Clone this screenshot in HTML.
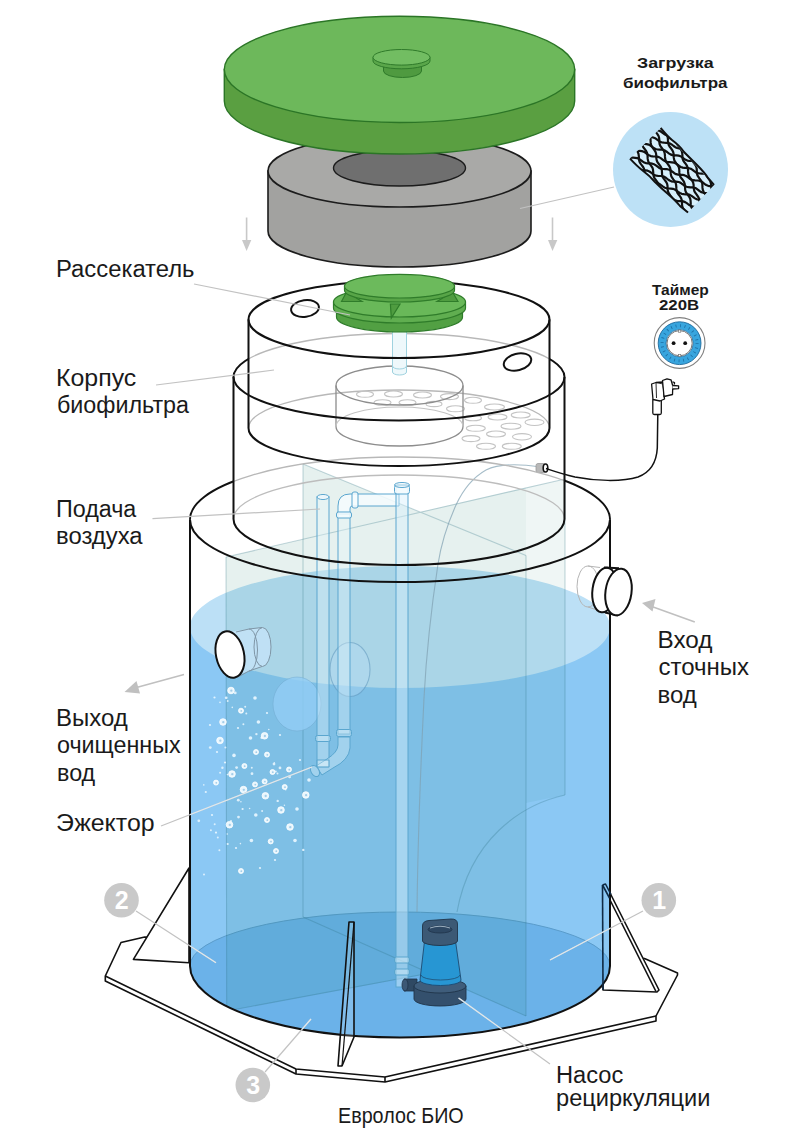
<!DOCTYPE html>
<html><head><meta charset="utf-8">
<style>
html,body{margin:0;padding:0;background:#fff;}
body{width:800px;height:1140px;overflow:hidden;}
svg{display:block;}
text{font-family:"Liberation Sans",sans-serif;}
</style></head>
<body>
<svg width="800" height="1140" viewBox="0 0 800 1140">
<rect width="800" height="1140" fill="#fff"/>

<!-- ===== BASE PLATE ===== -->
<g id="base" stroke="#111" stroke-width="1.6" stroke-linejoin="round" fill="#fff">
  <path d="M144.7,937 L121,942.5 L105.3,976 L105.3,981 L296,1074 L385,1082 L656,1021 L656,1016 L677.5,975 L677.5,973 L644.5,958.5 Z"/>
  <path d="M105.3,976 L296,1069 L385,1077 L656,1016" fill="none"/>
  <path d="M296,1069 L296,1074 M385,1077 L385,1082" fill="none"/>
  <!-- left fin -->
  <path d="M189,868 L133.4,959.4 L189,962.7 Z"/>
  <!-- right fin -->
  <path d="M602.5,885 L605.5,884 L659,990 L657,992 L603,990 Z"/>
  <path d="M602.5,885 L656,991.5" fill="none"/>
</g>

<!-- ===== TANK (C) water & body ===== -->
<defs><clipPath id="clipTank"><path d="M190,400 L190,966 A210,71.5 0 0 0 610,966 L610,400 Z"/></clipPath></defs>
<g id="tank">
  <!-- water body -->
  <path d="M190,627 L190,966 A210,71.5 0 0 0 610,966 L610,627 Z" fill="#8bc8f4"/>
  <!-- floor -->
  <path d="M190,966 A210,54 0 0 1 610,966 A210,71.5 0 0 1 190,966 Z" fill="#6bb2e9"/>
  <path d="M190,966 A210,54 0 0 1 610,966" fill="none" stroke="#5a9ccb" stroke-width="1"/>
  <!-- water surface -->
  <ellipse cx="400" cy="627" rx="210" ry="61" fill="#bce0f6"/>
  <!-- partition walls -->
  <g fill="#137868" stroke="none" clip-path="url(#clipTank)">
    <path d="M226,557 L303,539.2 L303,464 L420,512 L526,487.5 L526,1016 L430,973.4 L226.7,1011 Z" fill-opacity="0.105"/>
    <path d="M526,487.5 L565,479 L565,795 C545,799 535,801 526,803 Z" fill-opacity="0.065"/>
  </g>
  <g fill="none" stroke="#2a6f80" stroke-opacity="0.28" stroke-width="1.1" clip-path="url(#clipTank)">
    <path d="M226,557 L565,479 M303,464 L526,555.5"/>
    <path d="M226,557 L226.7,1011 M303,464 L303,917 M526,555.5 L526,1016 M565,479 L565,795"/>
    <path d="M565,795 C520,805 470,840 457,912"/>
    <path d="M226.7,1011 L457,968 M303,917 L526,1016"/>
  </g>
  <!-- air hose -->
  <path d="M540,467 C520,464 500,463 486,470 C472,478 462,492 456,505 C447,525 441,545 438,564 C431,610 426,660 424,698 C421,760 418,820 417,912" fill="none" stroke="#7f9fb0" stroke-opacity="0.7" stroke-width="1.1"/>
  <!-- disks -->
  <ellipse cx="297" cy="704" rx="24" ry="27" fill="#92cdf5" fill-opacity="0.8" stroke="#6fa6cc" stroke-opacity="0.45" stroke-width="1"/>
  <ellipse cx="350" cy="669.5" rx="20" ry="27" fill="#b8def5" fill-opacity="0.35" stroke="#5f96bc" stroke-opacity="0.55" stroke-width="1.1"/>
  <!-- pipes -->
  <g stroke="#5aa6cf" stroke-width="1" fill="#e6f5fb" fill-opacity="0.35">
    <rect x="317" y="497" width="12" height="270"/>
    <ellipse cx="323" cy="497" rx="6" ry="2.5" fill="#f4fbfe" fill-opacity="0.9"/>
    <rect x="338" y="512" width="12" height="222"/>
    <path d="M338,514 L338,506 Q338,494 350,494 L399,494 L399,506 L352,506 Q350,506 350,509 L350,514 Z" fill="#f4fbfe" fill-opacity="0.85"/>
    <rect x="336.5" y="512" width="15" height="6" rx="2" fill="#f4fbfe" fill-opacity="0.85"/>
    <rect x="352" y="492" width="6" height="16" rx="2" fill="#f4fbfe" fill-opacity="0.85"/>
    <rect x="315.5" y="735.5" width="15" height="6" rx="2"/>
    <rect x="336.5" y="729.5" width="15" height="7" rx="2"/>
    <path d="M338,737 L350,737 L350,748 Q349,760 333,768 L322,775 L316,766 L327,759 Q338,752 338,745 Z"/>
    <path d="M317,767 L329,767 L329,760 L317,760 Z"/>
    <ellipse cx="315" cy="771" rx="4" ry="6" transform="rotate(-30 315 771)"/>
    <rect x="396" y="487" width="12" height="500" fill="#d8f0fc" fill-opacity="0.45"/>
    <rect x="394.5" y="485" width="15" height="9" rx="2.5" fill="#f4fbfe" fill-opacity="0.9"/>
    <ellipse cx="402" cy="485" rx="7.5" ry="2.5" fill="#f4fbfe"/>
    <rect x="394.5" y="957" width="15" height="6" rx="2"/>
    <rect x="394.5" y="969" width="15" height="6" rx="2"/>
  </g>
  <!-- bubbles -->
  <g fill-opacity="0.92">
    <circle cx="252.0" cy="773.7" r="1.4" fill="#e3f3fd"/>
    <circle cx="277.5" cy="773.6" r="1.0" fill="#e3f3fd"/>
    <circle cx="243.4" cy="724.2" r="1.0" fill="#e3f3fd"/>
    <circle cx="232.3" cy="707.4" r="0.8" fill="#e3f3fd"/>
    <circle cx="285.7" cy="789.7" r="0.8" fill="#e3f3fd"/>
    <circle cx="238.3" cy="800.2" r="1.4" fill="#e3f3fd"/>
    <circle cx="262.1" cy="811.0" r="1.0" fill="#e3f3fd"/>
    <circle cx="284.4" cy="805.3" r="0.8" fill="#e3f3fd"/>
    <circle cx="227.7" cy="701.0" r="1.0" fill="#e3f3fd"/>
    <circle cx="277.7" cy="800.9" r="1.2" fill="#e3f3fd"/>
    <circle cx="275.8" cy="771.5" r="1.0" fill="#e3f3fd"/>
    <circle cx="249.6" cy="808.5" r="0.8" fill="#e3f3fd"/>
    <circle cx="227.5" cy="774.6" r="0.8" fill="#e3f3fd"/>
    <circle cx="231.0" cy="820.9" r="1.0" fill="#e3f3fd"/>
    <circle cx="203.8" cy="784.9" r="0.8" fill="#e3f3fd"/>
    <circle cx="274.0" cy="764.1" r="1.4" fill="#e3f3fd"/>
    <circle cx="220.0" cy="702.4" r="0.8" fill="#e3f3fd"/>
    <circle cx="268.8" cy="729.5" r="0.8" fill="#e3f3fd"/>
    <circle cx="289.6" cy="776.9" r="1.4" fill="#e3f3fd"/>
    <circle cx="251.8" cy="767.7" r="1.0" fill="#e3f3fd"/>
    <circle cx="227.3" cy="834.0" r="0.8" fill="#e3f3fd"/>
    <circle cx="210.3" cy="747.6" r="1.4" fill="#e3f3fd"/>
    <circle cx="210.9" cy="830.2" r="1.0" fill="#e3f3fd"/>
    <circle cx="198.8" cy="820.8" r="1.4" fill="#e3f3fd"/>
    <circle cx="217.8" cy="837.4" r="1.0" fill="#e3f3fd"/>
    <circle cx="220.1" cy="772.8" r="1.0" fill="#e3f3fd"/>
    <circle cx="236.6" cy="767.6" r="1.4" fill="#e3f3fd"/>
    <circle cx="222.4" cy="767.8" r="1.2" fill="#e3f3fd"/>
    <circle cx="303.3" cy="849.9" r="1.2" fill="#e3f3fd"/>
    <circle cx="204.0" cy="874.6" r="1.0" fill="#e3f3fd"/>
    <circle cx="274.3" cy="762.9" r="0.8" fill="#e3f3fd"/>
    <circle cx="226.2" cy="697.8" r="1.4" fill="#e3f3fd"/>
    <circle cx="261.6" cy="737.8" r="1.2" fill="#e3f3fd"/>
    <circle cx="240.4" cy="843.6" r="0.8" fill="#e3f3fd"/>
    <circle cx="245.2" cy="706.7" r="1.0" fill="#e3f3fd"/>
    <circle cx="235.3" cy="692.9" r="1.4" fill="#e3f3fd"/>
    <circle cx="246.3" cy="713.5" r="1.0" fill="#e3f3fd"/>
    <circle cx="219.4" cy="850.3" r="1.0" fill="#e3f3fd"/>
    <circle cx="225.4" cy="747.5" r="1.0" fill="#e3f3fd"/>
    <circle cx="214.7" cy="824.2" r="1.0" fill="#e3f3fd"/>
    <circle cx="238.5" cy="817.1" r="1.4" fill="#e3f3fd"/>
    <circle cx="240.9" cy="801.7" r="0.8" fill="#e3f3fd"/>
    <circle cx="242.2" cy="710.2" r="1.2" fill="#e3f3fd"/>
    <circle cx="256.4" cy="734.1" r="1.2" fill="#e3f3fd"/>
    <circle cx="280.0" cy="767.9" r="1.4" fill="#e3f3fd"/>
    <circle cx="231" cy="690.5" r="3.3" fill="#f2fbff" stroke="#ffffff" stroke-width="0.8"/><circle cx="231.3" cy="690.7" r="1.15" fill="#9cc9e6"/>
    <circle cx="255" cy="698" r="1.8" fill="#e8f6ff"/>
    <circle cx="214.5" cy="697.5" r="1.1" fill="#e8f6ff"/>
    <circle cx="241" cy="710.7" r="2.5" fill="#f2fbff" stroke="#ffffff" stroke-width="0.8"/><circle cx="241.3" cy="710.9000000000001" r="0.88" fill="#9cc9e6"/>
    <circle cx="267" cy="713" r="1.1" fill="#e8f6ff"/>
    <circle cx="223" cy="722" r="3.3" fill="#f2fbff" stroke="#ffffff" stroke-width="0.8"/><circle cx="223.3" cy="722.2" r="1.15" fill="#9cc9e6"/>
    <circle cx="258.4" cy="722" r="1.8" fill="#e8f6ff"/>
    <circle cx="220" cy="740.5" r="3.3" fill="#f2fbff" stroke="#ffffff" stroke-width="0.8"/><circle cx="220.3" cy="740.7" r="1.15" fill="#9cc9e6"/>
    <circle cx="250.5" cy="738" r="1.8" fill="#e8f6ff"/>
    <circle cx="264.6" cy="735.8" r="3.3" fill="#f2fbff" stroke="#ffffff" stroke-width="0.8"/><circle cx="264.90000000000003" cy="736.0" r="1.15" fill="#9cc9e6"/>
    <circle cx="234" cy="755.4" r="1.8" fill="#e8f6ff"/>
    <circle cx="256" cy="752" r="2.5" fill="#f2fbff" stroke="#ffffff" stroke-width="0.8"/><circle cx="256.3" cy="752.2" r="0.88" fill="#9cc9e6"/>
    <circle cx="267" cy="754.6" r="2.5" fill="#f2fbff" stroke="#ffffff" stroke-width="0.8"/><circle cx="267.3" cy="754.8000000000001" r="0.88" fill="#9cc9e6"/>
    <circle cx="217" cy="752" r="1.1" fill="#e8f6ff"/>
    <circle cx="244.4" cy="766" r="2.5" fill="#f2fbff" stroke="#ffffff" stroke-width="0.8"/><circle cx="244.70000000000002" cy="766.2" r="0.88" fill="#9cc9e6"/>
    <circle cx="232" cy="774" r="3.3" fill="#f2fbff" stroke="#ffffff" stroke-width="0.8"/><circle cx="232.3" cy="774.2" r="1.15" fill="#9cc9e6"/>
    <circle cx="272.5" cy="772" r="2.5" fill="#f2fbff" stroke="#ffffff" stroke-width="0.8"/><circle cx="272.8" cy="772.2" r="0.88" fill="#9cc9e6"/>
    <circle cx="289" cy="769.5" r="2.5" fill="#f2fbff" stroke="#ffffff" stroke-width="0.8"/><circle cx="289.3" cy="769.7" r="0.88" fill="#9cc9e6"/>
    <circle cx="216" cy="782.6" r="2.5" fill="#f2fbff" stroke="#ffffff" stroke-width="0.8"/><circle cx="216.3" cy="782.8000000000001" r="0.88" fill="#9cc9e6"/>
    <circle cx="255" cy="784.4" r="2.5" fill="#f2fbff" stroke="#ffffff" stroke-width="0.8"/><circle cx="255.3" cy="784.6" r="0.88" fill="#9cc9e6"/>
    <circle cx="264.6" cy="781.4" r="2.5" fill="#f2fbff" stroke="#ffffff" stroke-width="0.8"/><circle cx="264.90000000000003" cy="781.6" r="0.88" fill="#9cc9e6"/>
    <circle cx="243.5" cy="789.6" r="3.3" fill="#f2fbff" stroke="#ffffff" stroke-width="0.8"/><circle cx="243.8" cy="789.8000000000001" r="1.15" fill="#9cc9e6"/>
    <circle cx="284.7" cy="787" r="2.5" fill="#f2fbff" stroke="#ffffff" stroke-width="0.8"/><circle cx="285.0" cy="787.2" r="0.88" fill="#9cc9e6"/>
    <circle cx="309" cy="780" r="1.8" fill="#e8f6ff"/>
    <circle cx="265.4" cy="795.8" r="3.3" fill="#f2fbff" stroke="#ffffff" stroke-width="0.8"/><circle cx="265.7" cy="796.0" r="1.15" fill="#9cc9e6"/>
    <circle cx="305.8" cy="795" r="3.3" fill="#f2fbff" stroke="#ffffff" stroke-width="0.8"/><circle cx="306.1" cy="795.2" r="1.15" fill="#9cc9e6"/>
    <circle cx="242.6" cy="809" r="1.1" fill="#e8f6ff"/>
    <circle cx="281" cy="810" r="3.3" fill="#f2fbff" stroke="#ffffff" stroke-width="0.8"/><circle cx="281.3" cy="810.2" r="1.15" fill="#9cc9e6"/>
    <circle cx="297" cy="809" r="1.8" fill="#e8f6ff"/>
    <circle cx="255.8" cy="815" r="1.8" fill="#e8f6ff"/>
    <circle cx="267" cy="820" r="2.5" fill="#f2fbff" stroke="#ffffff" stroke-width="0.8"/><circle cx="267.3" cy="820.2" r="0.88" fill="#9cc9e6"/>
    <circle cx="229.5" cy="824.7" r="3.3" fill="#f2fbff" stroke="#ffffff" stroke-width="0.8"/><circle cx="229.8" cy="824.9000000000001" r="1.15" fill="#9cc9e6"/>
    <circle cx="290" cy="827" r="3.3" fill="#f2fbff" stroke="#ffffff" stroke-width="0.8"/><circle cx="290.3" cy="827.2" r="1.15" fill="#9cc9e6"/>
    <circle cx="251.4" cy="840.5" r="1.8" fill="#e8f6ff"/>
    <circle cx="270.7" cy="841.4" r="2.5" fill="#f2fbff" stroke="#ffffff" stroke-width="0.8"/><circle cx="271.0" cy="841.6" r="0.88" fill="#9cc9e6"/>
    <circle cx="295" cy="840.5" r="1.8" fill="#e8f6ff"/>
    <circle cx="276" cy="851" r="2.5" fill="#f2fbff" stroke="#ffffff" stroke-width="0.8"/><circle cx="276.3" cy="851.2" r="0.88" fill="#9cc9e6"/>
    <circle cx="216" cy="832.6" r="1.1" fill="#e8f6ff"/>
    <circle cx="241" cy="871" r="2.5" fill="#f2fbff" stroke="#ffffff" stroke-width="0.8"/><circle cx="241.3" cy="871.2" r="0.88" fill="#9cc9e6"/>
    <circle cx="227.7" cy="844" r="1.1" fill="#e8f6ff"/>
    <circle cx="205.8" cy="792" r="1.1" fill="#e8f6ff"/>
    <circle cx="225" cy="762.5" r="1.1" fill="#e8f6ff"/>
    <circle cx="210" cy="725" r="1.1" fill="#e8f6ff"/>
    <circle cx="280" cy="735" r="1.1" fill="#e8f6ff"/>
    <circle cx="300" cy="760" r="1.1" fill="#e8f6ff"/>
    <circle cx="238" cy="728" r="1.1" fill="#e8f6ff"/>
    <circle cx="275" cy="860" r="1.1" fill="#e8f6ff"/>
    <circle cx="260" cy="868" r="1.1" fill="#e8f6ff"/>
    <circle cx="212" cy="815" r="1.1" fill="#e8f6ff"/>
    <circle cx="236" cy="848" r="1.1" fill="#e8f6ff"/>
  </g>
  <!-- pump -->
  <g id="pump">
    <path d="M404,979 L417,979 L417,991 L404,991 Z" fill="#2f4963" stroke="#1f344a" stroke-width="0.8"/>
    <ellipse cx="405" cy="985" rx="3" ry="6" fill="#3c5875" stroke="#1f344a" stroke-width="0.8"/>
    <path d="M414,986 L414,999 A26,7 0 0 0 466,999 L466,986 Z" fill="#34506d" stroke="#1f344a" stroke-width="0.9"/>
    <ellipse cx="440" cy="986" rx="26" ry="7" fill="#3f5d7b" stroke="#1f344a" stroke-width="0.9"/>
    <path d="M424.5,941 L455.5,941 L461,980 A20.5,5.5 0 0 1 420,980 Z" fill="#2796d3" stroke="#1d4a70" stroke-width="0.9"/>
    
    <path d="M421,975 A19.5,5 0 0 0 460,975" fill="none" stroke="#1f4f74" stroke-width="0.8"/>
    <path d="M422.5,941 L422.5,926 Q422.5,921 429,920.5 L451,919 Q457.5,918.8 457.5,924 L457.5,941 A17.5,4.5 0 0 1 422.5,941 Z" fill="#3c5975" stroke="#1f344a" stroke-width="0.9"/>
    <ellipse cx="440" cy="929.5" rx="12" ry="3.5" fill="#2e4863" stroke="#1f344a" stroke-width="0.8"/>
    <path d="M430,928 Q440,924.5 450,928" fill="none" stroke="#a9bccb" stroke-width="0.9"/>
  </g>
  <!-- tank outline -->
  <path d="M190,519.5 L190,966 A210,71.5 0 0 0 610,966 L610,519.5" fill="none" stroke="#111" stroke-width="2"/>
  <path d="M190,519.5 A210,62.5 0 0 0 610,519.5" fill="none" stroke="#111" stroke-width="2"/>
</g>

<!-- ===== FRONT PARTS ===== -->
<g id="front" stroke="#111" stroke-width="1.6" stroke-linejoin="round">
  <!-- right fin (inside tank part) -->
  <path d="M602.5,885 L603,990" fill="none" stroke="#0f2a44"/>
  <path d="M602.5,885 L605.5,884 L611,894.5 M602.5,885 L609.5,898" fill="none" stroke="#0f2a44"/>
  <!-- center fin -->
  <path d="M349,922 L354,922 L354,1037 L342,1066 L338,1066 Z" fill="#fff" fill-opacity="0.15"/>
  <path d="M354,922 L342,1066" fill="none" stroke-width="1.2"/>
  <!-- outlet pipe (left) -->
  <path d="M231,631.5 L249,629 L262,627.5 L262,666.5 L249,671 L233,677.5 Z" fill="#c4e3f7" fill-opacity="0.85" stroke="none"/>
  <ellipse cx="262.5" cy="647" rx="8.5" ry="19.5" fill="#bfe0f5" stroke="#7f96a6" stroke-width="1"/>
  <path d="M249,629 L262,627.5 M249,671 L262,666.5 M236,632 L249,629 M238,677 L249,671" fill="none" stroke="#7f96a6" stroke-width="1"/>
  <path d="M249,629 A8.5,21 0 0 1 249,671" fill="none" stroke="#7f96a6" stroke-width="1"/>
  <ellipse cx="230" cy="654.5" rx="14" ry="23.5" transform="rotate(-12 230 654.5)" fill="#fff" stroke-width="2"/>
  <!-- inlet pipe (right) ghost inside -->
  <ellipse cx="588" cy="586.5" rx="11" ry="20.5" fill="none" stroke="#b5b5b5" stroke-width="1"/>
  <path d="M588,566 L600,567.5 M588,607 L600,611" fill="none" stroke="#b5b5b5" stroke-width="1"/>
  <!-- inlet pipe (right) -->
  <path d="M604,567.5 L619,568 L619,615.5 L604,612.5 Z" fill="#fff" stroke="none"/>
  <ellipse cx="604.5" cy="590" rx="12" ry="22.5" transform="rotate(8 604.5 590)" fill="#fff" stroke-width="2"/>
  <path d="M604,567.5 L619,568.3 M605,612.5 L618,615.5" fill="none" stroke-width="2"/>
  <ellipse cx="618.5" cy="592" rx="13" ry="23.5" transform="rotate(8 618.5 592)" fill="#fff" stroke-width="2"/>
  <!-- cable connector -->
  <rect x="536" y="463.5" width="9" height="9" rx="2" fill="#b8b8b8" stroke="#999" stroke-width="0.8"/>
  <ellipse cx="545.5" cy="468" rx="2.3" ry="4" fill="#fff" stroke-width="1.6"/>
</g>

<!-- ===== BIOFILTER ===== -->
<defs>
  <clipPath id="clipB"><path d="M233.5,377 L233.5,519 A165.5,46 0 0 0 564.5,519 L564.5,377 A165.5,43.5 0 0 0 233.5,377 Z"/></clipPath>
  <clipPath id="clipNotB"><path d="M0,0 H800 V1140 H0 Z M233.5,377 L233.5,519 A165.5,46 0 0 0 564.5,519 L564.5,377 A165.5,43.5 0 0 0 233.5,377 Z" clip-rule="evenodd"/></clipPath>
  <clipPath id="clipA"><path d="M248.5,319.5 L248.5,428 A150.5,38 0 0 0 549.5,428 L549.5,319.5 A150.5,38.5 0 0 0 248.5,319.5 Z"/></clipPath>
  <clipPath id="clipNotA"><path d="M0,0 H800 V1140 H0 Z M248.5,319.5 L248.5,428 A150.5,38 0 0 0 549.5,428 L549.5,319.5 A150.5,38.5 0 0 0 248.5,319.5 Z" clip-rule="evenodd"/></clipPath>
</defs>
<g id="bio" fill="none">
  <!-- C top back arc: black outside B, gray inside B -->
  <path d="M190,519.5 A210,62.5 0 0 1 610,519.5" stroke="#111" stroke-width="2" clip-path="url(#clipNotB)"/>
  <path d="M190,519.5 A210,62.5 0 0 1 610,519.5" stroke="#b8b8b8" stroke-width="1.3" clip-path="url(#clipB)"/>
  <path d="M233.5,519 A165.5,44 0 0 1 564.5,519" stroke="#bdbdbd" stroke-width="1.3"/>
  <!-- B top back arc: black outside A, gray inside A -->
  <path d="M233.5,377 A165.5,43.5 0 0 1 564.5,377" stroke="#111" stroke-width="2" clip-path="url(#clipNotA)"/>
  <path d="M233.5,377 A165.5,43.5 0 0 1 564.5,377" stroke="#b8b8b8" stroke-width="1.3" clip-path="url(#clipA)"/>
  <!-- A bottom back arc gray -->
  <path d="M248.5,428 A150.5,38 0 0 1 549.5,428" stroke="#b8b8b8" stroke-width="1.3"/>
  <!-- perforation holes -->
  <g stroke="#c4c4c4" stroke-width="1.1">
    <ellipse cx="365" cy="394.3" rx="8.5" ry="3"/>
    <ellipse cx="393.5" cy="394" rx="9" ry="3"/>
    <ellipse cx="422.5" cy="395" rx="9" ry="3"/>
    <ellipse cx="449.5" cy="396.6" rx="9" ry="3"/>
    <ellipse cx="382.5" cy="402.5" rx="8.5" ry="2.8"/>
    <ellipse cx="407.5" cy="402.5" rx="8.5" ry="2.8"/>
    <ellipse cx="434" cy="404" rx="8" ry="2.6"/>
    <ellipse cx="455.5" cy="408.8" rx="9" ry="3"/>
    <ellipse cx="473" cy="400.3" rx="8.5" ry="3"/>
    <ellipse cx="494.5" cy="407" rx="10" ry="3"/>
    <ellipse cx="473" cy="418" rx="8.5" ry="2.8"/>
    <ellipse cx="497.5" cy="417" rx="9.5" ry="3"/>
    <ellipse cx="520.7" cy="415" rx="9.5" ry="3"/>
    <ellipse cx="534.5" cy="422.3" rx="9.5" ry="3.2"/>
    <ellipse cx="475.8" cy="428.3" rx="9.5" ry="3"/>
    <ellipse cx="511" cy="426.2" rx="10" ry="3"/>
    <ellipse cx="496" cy="434" rx="9.5" ry="3"/>
    <ellipse cx="522" cy="436.8" rx="9.5" ry="3.2"/>
    <ellipse cx="471" cy="438.6" rx="9" ry="3"/>
    <ellipse cx="486" cy="446.3" rx="9.5" ry="3"/>
    <ellipse cx="511.8" cy="446.3" rx="9.5" ry="3"/>
  </g>
  <!-- inner basket -->
  <g stroke="#8d8d8d" stroke-width="1.3">
    <ellipse cx="399.5" cy="385.5" rx="63.5" ry="19.5"/>
    <path d="M336,385.5 L336,426.5 A63.5,19.5 0 0 0 463,426.5 L463,385.5"/>
    <path d="M336,426.5 A63.5,19.5 0 0 1 463,426.5" stroke="#c4c4c4" stroke-width="1.1"/>
  </g>
  <!-- central tube from splitter -->
  <path d="M392.5,330 L392.5,372 A7,3 0 0 0 406.5,372 L406.5,330" fill="#eef8fb" stroke="#9fd2df" stroke-width="1"/>
  <path d="M392.5,366 A7,3 0 0 0 406.5,366" stroke="#9fd2df" stroke-width="1"/>
  <!-- A outline -->
  <g stroke="#111" stroke-width="2">
    <ellipse cx="399" cy="319.5" rx="150.5" ry="38.5"/>
    <path d="M248.5,319.5 L248.5,428 A150.5,38 0 0 0 549.5,428 L549.5,319.5"/>
    <ellipse cx="305" cy="308.5" rx="14" ry="8.3" transform="rotate(-8 305 308.5)" fill="#fff"/>
    <ellipse cx="517.5" cy="362" rx="14" ry="8.3" transform="rotate(-14 517.5 362)" fill="#fff"/>
  </g>
  <!-- B outline -->
  <g stroke="#111" stroke-width="2">
    <path d="M233.5,377 L233.5,519 A165.5,46 0 0 0 564.5,519 L564.5,377"/>
    <path d="M233.5,377 A165.5,43.5 0 0 0 564.5,377"/>
  </g>
</g>

<!-- ===== SPLITTER ===== -->
<g id="splitter" stroke="#2f7c2a" stroke-width="1.2">
  <path d="M336.5,308 L336.5,317 A63,15 0 0 0 462.5,317 L462.5,308 Z" fill="#52a043"/>
  <path d="M333.5,302 L333.5,308 A66,15 0 0 0 465.5,308 L465.5,302 Z" fill="#60ae50"/>
  <ellipse cx="399.5" cy="302" rx="66" ry="15" fill="#69b859"/>
  <path d="M341.5,301.5 L346.5,292 L362,301.5 Z" fill="#4f9c40"/>
  <path d="M458,301.5 L452.5,292 L437,301.5 Z" fill="#4f9c40"/>
  <path d="M390.4,304 L400,304 L391.3,318 Z" fill="#4f9c40"/>
  <path d="M344.5,286.2 L344.5,290.2 A55,11.8 0 0 0 454.5,290.2 L454.5,286.2 Z" fill="#58a548"/>
  <ellipse cx="399.5" cy="286.2" rx="55" ry="11.8" fill="#6cba5c"/>
</g>

<!-- ===== GRAY RING ===== -->
<g id="ring">
  <path d="M268,171 L268,231 A131.5,36 0 0 0 531,231 L531,171 Z" fill="#a2a2a0" stroke="#1c1c1c" stroke-width="1.6"/>
  <ellipse cx="399.5" cy="171" rx="131.5" ry="36" fill="#a9a9a7" stroke="#1c1c1c" stroke-width="1.6"/>
  <ellipse cx="399.5" cy="168" rx="66" ry="18" fill="#6f6f6f" stroke="#1c1c1c" stroke-width="1.4"/>
</g>

<!-- ===== GREEN LID ===== -->
<g id="lid">
  <path d="M224.3,69.4 L224.3,101 A175.2,53 0 0 0 574.7,101 L574.7,69.4 Z" fill="#5a9f41" stroke="#2b7526" stroke-width="1.4"/>
  <ellipse cx="399.5" cy="69.4" rx="175.2" ry="53.1" fill="#6db85b" stroke="#2b7526" stroke-width="1.4"/>
  <path d="M383.5,65 L383.5,71 A19,6.5 0 0 0 421.5,71 L421.5,65 Z" fill="#4f9a40" stroke="#2f7a2a" stroke-width="1"/>
  <path d="M373,57.3 L373,61 A28.5,7.8 0 0 0 430,61 L430,57.3 Z" fill="#5aa64a" stroke="#2f7a2a" stroke-width="1"/>
  <ellipse cx="401.5" cy="57.3" rx="28.5" ry="7.8" fill="#72bd62" stroke="#2f7a2a" stroke-width="1"/>
</g>

<!-- arrows -->
<g stroke="#c8c8c8" stroke-width="1.6" fill="#c8c8c8">
  <line x1="246.6" y1="217.5" x2="246.6" y2="244"/>
  <path d="M242,240 L251.3,240 L246.6,251 Z" stroke="none"/>
  <line x1="552.5" y1="217.5" x2="552.5" y2="244"/>
  <path d="M548,240 L557.3,240 L552.5,251 Z" stroke="none"/>
</g>

<!-- ===== MEDIA CIRCLE ===== -->
<defs>
  <clipPath id="clipMesh"><path d="M660.6,128 L714,185 L688,212.5 L630,158.6 Z"/></clipPath>
</defs>
<g id="media">
  <circle cx="670.5" cy="169.5" r="57.5" fill="#bde1f6"/>
  <path d="M660.6,128 L714,185 L688,212.5 L630,158.6 Z" fill="#d6effb"/>
  <g clip-path="url(#clipMesh)" stroke="#111" stroke-width="2.2" fill="none" stroke-linejoin="round">
    <path d="M632.2,78.5 L634.3,78.6 L636.4,78.7 L638.4,79.0 L640.2,79.8 L641.9,81.0 L643.6,82.3 L645.3,83.4 L647.2,84.1 L649.2,84.3 L651.3,84.4 L653.4,84.6 L655.3,85.2 L657.0,86.3 L658.7,87.6 L660.4,88.8 L662.2,89.6 L664.2,89.9 L666.3,90.0 L668.4,90.1 L670.3,90.6 L672.1,91.6 L673.8,92.9 L675.4,94.1 L677.2,95.1 L679.2,95.5 L681.3,95.7 L683.4,95.8 L685.4,96.1 L687.2,96.9 L688.9,98.1 L690.5,99.4 L692.3,100.5 L694.2,101.1 L696.2,101.3 L698.3,101.4 L700.4,101.6 L702.3,102.3 L704.0,103.4 L705.6,104.7 L707.3,105.9 L709.2,106.7 L711.2,107.0 L713.3,107.1 L715.4,107.2 L717.3,107.7 L719.1,108.7 L720.7,110.0 L722.4,111.3 L724.2,112.2 L726.2,112.6 L728.3,112.7 L730.4,112.8 L732.3,113.2 L734.2,114.1 L735.8,115.3 L737.5,116.6 L739.3,117.6 L741.2,118.2 L743.2,118.4 L745.3,118.4 L747.4,118.7 L749.2,119.4 L750.9,120.6 L752.6,121.9 L754.3,123.0 L756.2,123.7 L758.2,124.0 L760.3,124.1 L762.4,124.3 L764.3,124.9 M629.6,85.6 L631.7,85.7 L633.7,86.1 L635.5,87.0 L637.1,88.3 L638.8,89.6 L640.6,90.5 L642.5,91.1 L644.6,91.2 L646.7,91.3 L648.7,91.6 L650.5,92.4 L652.2,93.6 L653.9,94.9 L655.6,96.0 L657.5,96.6 L659.5,96.9 L661.6,96.9 L663.7,97.2 L665.6,97.8 L667.3,98.9 L669.0,100.2 L670.7,101.4 L672.5,102.2 L674.5,102.5 L676.6,102.6 L678.7,102.7 L680.6,103.2 L682.4,104.2 L684.1,105.5 L685.8,106.7 L687.5,107.7 L689.5,108.1 L691.6,108.3 L693.7,108.3 L695.7,108.7 L697.5,109.5 L699.2,110.7 L700.8,112.0 L702.6,113.1 L704.5,113.7 L706.5,113.9 L708.7,114.0 L710.7,114.2 L712.6,114.9 L714.3,116.0 L715.9,117.3 L717.6,118.5 L719.5,119.3 L721.5,119.6 L723.6,119.6 L725.7,119.8 L727.6,120.3 L729.4,121.3 L731.0,122.6 L732.7,123.9 L734.5,124.8 L736.5,125.2 L738.6,125.3 L740.7,125.4 L742.7,125.8 L744.5,126.7 L746.2,127.9 L747.8,129.2 L749.6,130.2 L751.5,130.8 L753.6,131.0 L755.7,131.0 L757.7,131.3 L759.5,132.0 L761.3,133.2 M627.0,92.7 L628.9,93.3 L630.7,94.3 L632.3,95.6 L634.0,96.8 L635.8,97.7 L637.8,98.0 L639.9,98.1 L642.0,98.2 L644.0,98.7 L645.8,99.6 L647.4,100.9 L649.1,102.2 L650.9,103.1 L652.8,103.6 L654.9,103.8 L657.0,103.9 L659.0,104.2 L660.8,105.0 L662.5,106.2 L664.2,107.5 L665.9,108.6 L667.8,109.2 L669.9,109.4 L672.0,109.5 L674.0,109.7 L675.9,110.4 L677.6,111.5 L679.3,112.8 L681.0,114.0 L682.8,114.8 L684.8,115.1 L686.9,115.2 L689.0,115.3 L691.0,115.8 L692.7,116.8 L694.4,118.1 L696.1,119.3 L697.9,120.2 L699.8,120.7 L701.9,120.8 L704.0,120.9 L706.0,121.3 L707.8,122.1 L709.5,123.3 L711.2,124.6 L712.9,125.7 L714.8,126.3 L716.9,126.5 L719.0,126.5 L721.0,126.8 L722.9,127.5 L724.6,128.6 L726.3,129.9 L728.0,131.1 L729.8,131.8 L731.8,132.1 L733.9,132.2 L736.0,132.4 L737.9,132.9 L739.7,133.9 L741.4,135.2 L743.0,136.5 L744.8,137.3 L746.8,137.8 L748.9,137.9 L751.0,138.0 L753.0,138.4 L754.8,139.3 L756.5,140.5 L758.1,141.8 M624.2,100.5 L625.9,101.6 L627.5,102.9 L629.3,104.0 L631.1,104.7 L633.2,105.0 L635.3,105.0 L637.3,105.2 L639.2,105.9 L641.0,106.9 L642.6,108.2 L644.3,109.4 L646.2,110.2 L648.2,110.6 L650.3,110.7 L652.3,110.8 L654.3,111.3 L656.1,112.2 L657.7,113.5 L659.4,114.8 L661.2,115.7 L663.1,116.2 L665.2,116.4 L667.3,116.4 L669.3,116.8 L671.2,117.6 L672.9,118.8 L674.5,120.1 L676.2,121.2 L678.1,121.8 L680.2,122.0 L682.3,122.1 L684.3,122.3 L686.2,123.0 L688.0,124.1 L689.6,125.4 L691.3,126.6 L693.1,127.3 L695.2,127.7 L697.3,127.7 L699.3,127.9 L701.3,128.4 L703.0,129.4 L704.7,130.7 L706.4,131.9 L708.2,132.8 L710.1,133.3 L712.2,133.4 L714.3,133.5 L716.3,133.9 L718.1,134.7 L719.8,135.9 L721.5,137.2 L723.2,138.3 L725.1,138.9 L727.2,139.1 L729.3,139.1 L731.3,139.4 L733.2,140.1 L734.9,141.2 L736.6,142.5 L738.3,143.7 L740.1,144.4 L742.2,144.7 L744.3,144.8 L746.3,145.0 L748.3,145.5 L750.0,146.5 L751.7,147.8 L753.4,149.1 L755.2,149.9 M621.1,108.9 L622.8,110.2 L624.5,111.2 L626.5,111.7 L628.5,111.9 L630.6,112.0 L632.6,112.3 L634.5,113.1 L636.2,114.2 L637.9,115.5 L639.6,116.6 L641.5,117.3 L643.5,117.6 L645.6,117.6 L647.7,117.8 L649.6,118.4 L651.3,119.5 L653.0,120.8 L654.6,122.0 L656.5,122.8 L658.5,123.2 L660.6,123.3 L662.7,123.4 L664.6,123.9 L666.4,124.8 L668.1,126.1 L669.7,127.4 L671.5,128.3 L673.5,128.8 L675.5,128.9 L677.6,129.0 L679.6,129.4 L681.5,130.2 L683.2,131.4 L684.8,132.7 L686.6,133.8 L688.5,134.4 L690.5,134.6 L692.6,134.7 L694.7,134.9 L696.5,135.6 L698.3,136.7 L699.9,138.0 L701.6,139.2 L703.5,139.9 L705.5,140.2 L707.6,140.3 L709.7,140.5 L711.6,141.0 L713.4,142.0 L715.0,143.3 L716.7,144.5 L718.5,145.4 L720.5,145.9 L722.5,146.0 L724.6,146.1 L726.6,146.5 L728.4,147.3 L730.1,148.5 L731.8,149.8 L733.5,150.9 L735.5,151.5 L737.5,151.6 L739.6,151.7 L741.6,152.0 L743.5,152.7 L745.2,153.8 L746.9,155.1 L748.6,156.3 L750.5,157.0 L752.5,157.3 M618.0,117.5 L619.8,118.3 L621.8,118.7 L623.9,118.8 L626.0,118.9 L627.9,119.4 L629.7,120.3 L631.4,121.5 L633.1,122.8 L634.8,123.8 L636.8,124.3 L638.9,124.5 L641.0,124.5 L643.0,124.9 L644.8,125.6 L646.5,126.8 L648.2,128.1 L649.9,129.2 L651.8,129.9 L653.8,130.1 L655.9,130.2 L658.0,130.4 L659.9,131.0 L661.6,132.1 L663.3,133.4 L665.0,134.6 L666.8,135.4 L668.8,135.8 L670.9,135.8 L673.0,136.0 L674.9,136.5 L676.7,137.4 L678.4,138.7 L680.0,140.0 L681.8,140.9 L683.8,141.4 L685.9,141.5 L688.0,141.6 L690.0,142.0 L691.8,142.8 L693.5,144.0 L695.1,145.3 L696.9,146.3 L698.8,147.0 L700.8,147.2 L702.9,147.2 L705.0,147.5 L706.9,148.2 L708.6,149.3 L710.2,150.6 L711.9,151.7 L713.8,152.5 L715.8,152.8 L717.9,152.9 L720.0,153.0 L721.9,153.6 L723.7,154.6 L725.3,155.9 L727.0,157.1 L728.8,158.0 L730.8,158.4 L732.9,158.5 L735.0,158.6 L736.9,159.1 L738.8,159.9 L740.4,161.1 L742.1,162.4 L743.9,163.5 L745.8,164.0 L747.8,164.2 L749.9,164.3 M615.1,125.4 L617.1,125.7 L619.2,125.7 L621.3,125.9 L623.2,126.5 L625.0,127.6 L626.6,128.9 L628.3,130.1 L630.1,130.9 L632.1,131.3 L634.2,131.4 L636.3,131.5 L638.3,132.0 L640.0,132.9 L641.7,134.1 L643.4,135.4 L645.2,136.4 L647.1,136.9 L649.2,137.0 L651.3,137.1 L653.3,137.5 L655.1,138.2 L656.8,139.4 L658.5,140.7 L660.2,141.8 L662.1,142.5 L664.1,142.7 L666.3,142.8 L668.3,143.0 L670.2,143.6 L671.9,144.7 L673.6,146.0 L675.3,147.2 L677.1,148.0 L679.1,148.3 L681.2,148.4 L683.3,148.6 L685.2,149.1 L687.0,150.0 L688.7,151.3 L690.4,152.6 L692.1,153.5 L694.1,154.0 L696.2,154.1 L698.3,154.2 L700.3,154.5 L702.1,155.4 L703.8,156.6 L705.4,157.9 L707.2,158.9 L709.1,159.5 L711.1,159.7 L713.3,159.8 L715.3,160.1 L717.2,160.8 L718.9,161.9 L720.5,163.2 L722.2,164.3 L724.1,165.1 L726.1,165.4 L728.2,165.5 L730.3,165.6 L732.2,166.2 L734.0,167.2 L735.6,168.5 L737.3,169.7 L739.1,170.6 L741.1,171.0 L743.2,171.1 L745.3,171.2 L747.3,171.6 M612.5,132.6 L614.6,132.7 L616.6,133.0 L618.5,133.7 L620.2,134.9 L621.8,136.2 L623.5,137.3 L625.4,138.0 L627.5,138.2 L629.6,138.3 L631.6,138.5 L633.5,139.1 L635.3,140.2 L636.9,141.5 L638.6,142.7 L640.4,143.5 L642.4,143.9 L644.5,144.0 L646.6,144.1 L648.6,144.6 L650.4,145.5 L652.0,146.7 L653.7,148.0 L655.5,149.0 L657.4,149.5 L659.5,149.6 L661.6,149.7 L663.6,150.0 L665.4,150.8 L667.1,152.0 L668.8,153.3 L670.5,154.4 L672.4,155.1 L674.5,155.3 L676.6,155.3 L678.6,155.6 L680.5,156.2 L682.2,157.3 L683.9,158.6 L685.6,159.8 L687.4,160.6 L689.4,160.9 L691.5,161.0 L693.6,161.1 L695.6,161.7 L697.3,162.6 L699.0,163.9 L700.7,165.2 L702.5,166.1 L704.4,166.5 L706.5,166.7 L708.6,166.7 L710.6,167.1 L712.4,168.0 L714.1,169.2 L715.8,170.5 L717.5,171.5 L719.4,172.1 L721.5,172.3 L723.6,172.4 L725.6,172.6 L727.5,173.3 L729.2,174.5 L730.9,175.8 L732.6,176.9 L734.4,177.7 L736.4,178.0 L738.5,178.0 L740.6,178.2 L742.5,178.8 L744.3,179.8 M609.9,139.6 L611.9,140.0 L613.7,140.9 L615.4,142.2 L617.0,143.5 L618.8,144.5 L620.7,145.0 L622.8,145.2 L624.9,145.2 L626.9,145.5 L628.8,146.3 L630.5,147.5 L632.1,148.8 L633.9,149.9 L635.7,150.6 L637.8,150.8 L639.9,150.9 L641.9,151.1 L643.8,151.7 L645.6,152.8 L647.2,154.1 L648.9,155.3 L650.8,156.1 L652.8,156.4 L654.9,156.5 L656.9,156.7 L658.9,157.1 L660.7,158.1 L662.3,159.3 L664.0,160.6 L665.8,161.6 L667.7,162.1 L669.8,162.2 L671.9,162.3 L673.9,162.6 L675.8,163.4 L677.5,164.6 L679.1,165.9 L680.8,167.0 L682.7,167.6 L684.8,167.9 L686.9,167.9 L688.9,168.2 L690.8,168.8 L692.6,169.9 L694.2,171.2 L695.9,172.4 L697.7,173.2 L699.8,173.5 L701.9,173.6 L703.9,173.7 L705.9,174.2 L707.6,175.2 L709.3,176.5 L711.0,177.8 L712.8,178.7 L714.7,179.1 L716.8,179.2 L718.9,179.3 L720.9,179.7 L722.7,180.6 L724.4,181.8 L726.1,183.1 L727.8,184.1 L729.7,184.7 L731.8,184.9 L733.9,185.0 L735.9,185.2 L737.8,185.9 L739.5,187.1 L741.2,188.4 M607.2,147.2 L608.9,148.2 L610.6,149.5 L612.3,150.7 L614.1,151.6 L616.1,152.0 L618.2,152.1 L620.3,152.2 L622.2,152.6 L624.0,153.5 L625.7,154.8 L627.4,156.1 L629.1,157.0 L631.1,157.6 L633.1,157.7 L635.2,157.8 L637.2,158.1 L639.1,158.9 L640.8,160.1 L642.5,161.4 L644.2,162.5 L646.1,163.1 L648.1,163.4 L650.2,163.4 L652.3,163.7 L654.2,164.3 L655.9,165.4 L657.6,166.7 L659.2,167.9 L661.1,168.7 L663.1,169.0 L665.2,169.1 L667.3,169.2 L669.2,169.7 L671.0,170.7 L672.7,171.9 L674.3,173.2 L676.1,174.2 L678.1,174.6 L680.1,174.8 L682.2,174.9 L684.2,175.2 L686.1,176.0 L687.8,177.2 L689.4,178.5 L691.2,179.6 L693.1,180.2 L695.1,180.4 L697.2,180.5 L699.3,180.7 L701.1,181.4 L702.9,182.5 L704.5,183.8 L706.2,185.0 L708.1,185.8 L710.1,186.1 L712.2,186.1 L714.3,186.3 L716.2,186.8 L718.0,187.8 L719.6,189.1 L721.3,190.4 L723.1,191.3 L725.1,191.7 L727.1,191.8 L729.2,191.9 L731.2,192.3 L733.0,193.2 L734.7,194.4 L736.4,195.7 L738.1,196.7 M604.1,155.5 L605.8,156.8 L607.5,157.9 L609.4,158.6 L611.4,158.9 L613.5,159.0 L615.6,159.2 L617.5,159.8 L619.2,160.8 L620.9,162.1 L622.6,163.3 L624.4,164.2 L626.4,164.6 L628.5,164.6 L630.6,164.8 L632.5,165.2 L634.3,166.1 L636.0,167.4 L637.7,168.7 L639.4,169.6 L641.4,170.2 L643.5,170.3 L645.6,170.4 L647.6,170.7 L649.4,171.5 L651.1,172.7 L652.8,174.0 L654.5,175.1 L656.4,175.7 L658.4,176.0 L660.5,176.0 L662.6,176.2 L664.5,176.9 L666.2,178.0 L667.9,179.3 L669.6,180.5 L671.4,181.3 L673.4,181.6 L675.5,181.7 L677.6,181.8 L679.5,182.3 L681.3,183.3 L683.0,184.5 L684.6,185.8 L686.4,186.7 L688.4,187.2 L690.5,187.3 L692.6,187.4 L694.6,187.8 L696.4,188.6 L698.1,189.8 L699.7,191.1 L701.5,192.2 L703.4,192.8 L705.4,193.0 L707.5,193.1 L709.6,193.3 L711.5,194.0 L713.2,195.1 L714.8,196.4 L716.5,197.6 L718.4,198.3 L720.4,198.7 L722.5,198.7 L724.6,198.9 L726.5,199.4 L728.3,200.4 L729.9,201.7 L731.6,202.9 L733.4,203.8 L735.4,204.3 M601.0,164.1 L602.8,165.1 L604.7,165.7 L606.8,165.8 L608.9,165.9 L610.9,166.2 L612.8,166.9 L614.5,168.1 L616.1,169.4 L617.8,170.5 L619.7,171.2 L621.7,171.5 L623.8,171.6 L625.9,171.8 L627.8,172.4 L629.6,173.4 L631.2,174.7 L632.9,175.9 L634.7,176.7 L636.7,177.1 L638.8,177.2 L640.9,177.3 L642.9,177.8 L644.6,178.7 L646.3,180.0 L648.0,181.3 L649.8,182.2 L651.7,182.7 L653.8,182.9 L655.9,183.0 L657.9,183.3 L659.7,184.1 L661.4,185.3 L663.1,186.6 L664.8,187.7 L666.7,188.3 L668.7,188.5 L670.9,188.6 L672.9,188.8 L674.8,189.5 L676.5,190.6 L678.2,191.9 L679.9,193.0 L681.7,193.8 L683.7,194.2 L685.8,194.3 L687.9,194.4 L689.8,194.9 L691.6,195.9 L693.3,197.1 L695.0,198.4 L696.7,199.3 L698.7,199.8 L700.8,199.9 L702.9,200.0 L704.9,200.4 L706.7,201.2 L708.4,202.4 L710.0,203.7 L711.8,204.8 L713.7,205.4 L715.8,205.6 L717.9,205.6 L719.9,205.9 L721.8,206.6 L723.5,207.7 L725.1,209.0 L726.8,210.2 L728.7,210.9 L730.7,211.2 L732.8,211.3 M598.1,172.2 L600.0,172.7 L602.1,172.8 L604.2,172.9 L606.2,173.3 L608.0,174.2 L609.7,175.4 L611.3,176.7 L613.1,177.7 L615.0,178.3 L617.1,178.4 L619.2,178.5 L621.2,178.8 L623.1,179.5 L624.8,180.7 L626.4,182.0 L628.1,183.1 L630.0,183.8 L632.1,184.1 L634.2,184.1 L636.2,184.3 L638.1,184.9 L639.9,186.0 L641.5,187.3 L643.2,188.5 L645.0,189.3 L647.0,189.7 L649.1,189.8 L651.2,189.9 L653.2,190.4 L655.0,191.3 L656.6,192.6 L658.3,193.8 L660.1,194.8 L662.0,195.3 L664.1,195.5 L666.2,195.5 L668.2,195.9 L670.0,196.7 L671.7,197.9 L673.4,199.2 L675.1,200.2 L677.0,200.9 L679.1,201.1 L681.2,201.2 L683.2,201.4 L685.1,202.1 L686.8,203.2 L688.5,204.5 L690.2,205.6 L692.0,206.4 L694.0,206.8 L696.1,206.8 L698.2,207.0 L700.2,207.5 L701.9,208.5 L703.6,209.7 L705.3,211.0 L707.1,211.9 L709.0,212.4 L711.1,212.5 L713.2,212.6 L715.2,213.0 L717.0,213.8 L718.7,215.0 L720.4,216.3 L722.1,217.4 L724.0,218.0 L726.1,218.2 L728.2,218.2 L730.2,218.5 M595.4,179.6 L597.5,179.7 L599.5,179.8 L601.5,180.4 L603.2,181.4 L604.9,182.7 L606.6,184.0 L608.4,184.8 L610.4,185.2 L612.4,185.3 L614.5,185.4 L616.5,185.9 L618.3,186.8 L620.0,188.0 L621.6,189.3 L623.4,190.3 L625.3,190.8 L627.4,191.0 L629.5,191.1 L631.5,191.4 L633.4,192.1 L635.1,193.3 L636.7,194.6 L638.5,195.7 L640.3,196.4 L642.4,196.6 L644.5,196.7 L646.5,196.9 L648.4,197.5 L650.2,198.6 L651.8,199.9 L653.5,201.1 L655.4,201.9 L657.4,202.3 L659.5,202.4 L661.5,202.5 L663.5,203.0 L665.3,203.9 L666.9,205.2 L668.6,206.4 L670.4,207.4 L672.3,207.9 L674.4,208.0 L676.5,208.1 L678.5,208.5 L680.4,209.3 L682.0,210.5 L683.7,211.8 L685.4,212.8 L687.3,213.5 L689.4,213.7 L691.5,213.7 L693.5,214.0 L695.4,214.7 L697.1,215.8 L698.8,217.1 L700.5,218.2 L702.3,219.0 L704.4,219.3 L706.5,219.4 L708.5,219.6 L710.5,220.1 L712.2,221.1 L713.9,222.3 L715.6,223.6 L717.4,224.5 L719.3,225.0 L721.4,225.1 L723.5,225.2 L725.5,225.6 L727.3,226.4 M592.8,186.6 L594.9,186.9 L596.7,187.6 L598.4,188.7 L600.1,190.0 L601.8,191.2 L603.7,191.9 L605.7,192.2 L607.8,192.2 L609.9,192.4 L611.8,193.0 L613.5,194.0 L615.2,195.3 L616.9,196.6 L618.7,197.4 L620.7,197.8 L622.8,197.9 L624.9,198.0 L626.8,198.5 L628.6,199.4 L630.3,200.6 L632.0,201.9 L633.7,202.9 L635.7,203.4 L637.7,203.6 L639.8,203.6 L641.8,204.0 L643.7,204.7 L645.4,205.9 L647.1,207.2 L648.8,208.3 L650.7,209.0 L652.7,209.2 L654.8,209.3 L656.9,209.5 L658.8,210.1 L660.5,211.2 L662.2,212.5 L663.8,213.7 L665.7,214.5 L667.7,214.9 L669.8,214.9 L671.9,215.1 L673.8,215.6 L675.6,216.5 L677.3,217.8 L678.9,219.0 L680.7,220.0 L682.7,220.5 L684.7,220.6 L686.8,220.7 L688.8,221.0 L690.7,221.9 L692.4,223.1 L694.0,224.4 L695.8,225.4 L697.7,226.1 L699.7,226.3 L701.8,226.3 L703.9,226.6 L705.7,227.2 L707.5,228.4 L709.1,229.7 L710.8,230.8 L712.7,231.6 L714.7,231.9 L716.8,232.0 L718.9,232.1 L720.8,232.7 L722.6,233.7 L724.2,234.9 M590.2,194.0 L592.0,194.8 L593.6,196.1 L595.3,197.3 L597.1,198.4 L599.0,198.9 L601.0,199.1 L603.2,199.2 L605.2,199.5 L607.0,200.2 L608.7,201.3 L610.4,202.6 L612.1,203.8 L614.0,204.5 L616.0,204.8 L618.1,204.8 L620.2,205.0 L622.1,205.6 L623.8,206.6 L625.5,207.9 L627.2,209.2 L629.0,210.0 L631.0,210.4 L633.1,210.5 L635.2,210.6 L637.1,211.1 L638.9,212.0 L640.6,213.2 L642.3,214.5 L644.0,215.5 L646.0,216.0 L648.1,216.1 L650.2,216.2 L652.2,216.5 L654.0,217.3 L655.7,218.5 L657.4,219.8 L659.1,220.9 L661.0,221.6 L663.0,221.8 L665.1,221.9 L667.2,222.1 L669.1,222.7 L670.8,223.8 L672.5,225.1 L674.2,226.3 L676.0,227.1 L678.0,227.4 L680.1,227.5 L682.2,227.7 L684.1,228.2 L685.9,229.1 L687.6,230.4 L689.2,231.6 L691.0,232.6 L693.0,233.1 L695.1,233.2 L697.2,233.3 L699.2,233.6 L701.0,234.5 L702.7,235.7 L704.3,237.0 L706.1,238.0 L708.0,238.6 L710.0,238.8 L712.1,238.9 L714.2,239.2 L716.1,239.8 L717.8,241.0 L719.4,242.3 L721.1,243.4 M587.2,202.1 L588.9,203.4 L590.5,204.6 L592.3,205.5 L594.3,205.9 L596.4,206.0 L598.5,206.1 L600.5,206.5 L602.3,207.4 L604.0,208.7 L605.6,209.9 L607.4,211.0 L609.3,211.5 L611.4,211.7 L613.5,211.7 L615.5,212.0 L617.4,212.8 L619.1,213.9 L620.7,215.2 L622.4,216.4 L624.3,217.1 L626.3,217.3 L628.4,217.4 L630.5,217.6 L632.4,218.2 L634.2,219.2 L635.8,220.5 L637.5,221.7 L639.3,222.6 L641.3,223.0 L643.4,223.1 L645.5,223.2 L647.5,223.6 L649.2,224.6 L650.9,225.8 L652.6,227.1 L654.4,228.1 L656.3,228.6 L658.4,228.7 L660.5,228.8 L662.5,229.1 L664.3,229.9 L666.0,231.1 L667.7,232.4 L669.4,233.5 L671.3,234.1 L673.3,234.4 L675.5,234.4 L677.5,234.7 L679.4,235.3 L681.1,236.4 L682.8,237.7 L684.5,238.9 L686.3,239.7 L688.3,240.0 L690.4,240.1 L692.5,240.2 L694.4,240.7 L696.2,241.7 L697.9,243.0 L699.6,244.2 L701.3,245.2 L703.3,245.6 L705.4,245.8 L707.5,245.8 L709.5,246.2 L711.3,247.1 L713.0,248.3 L714.6,249.6 L716.4,250.6 L718.3,251.2 M584.1,210.7 L585.8,211.8 L587.6,212.6 L589.7,212.9 L591.8,212.9 L593.8,213.1 L595.7,213.7 L597.5,214.7 L599.2,216.0 L600.8,217.2 L602.7,218.1 L604.6,218.5 L606.7,218.6 L608.8,218.7 L610.8,219.1 L612.6,220.0 L614.3,221.3 L615.9,222.5 L617.7,223.5 L619.6,224.1 L621.7,224.3 L623.8,224.3 L625.8,224.6 L627.7,225.4 L629.4,226.5 L631.0,227.8 L632.7,229.0 L634.6,229.7 L636.7,229.9 L638.8,230.0 L640.8,230.2 L642.7,230.8 L644.5,231.8 L646.1,233.1 L647.8,234.3 L649.6,235.2 L651.6,235.5 L653.7,235.6 L655.8,235.8 L657.8,236.2 L659.6,237.2 L661.2,238.4 L662.9,239.7 L664.7,240.7 L666.6,241.2 L668.7,241.3 L670.8,241.4 L672.8,241.7 L674.6,242.5 L676.3,243.7 L678.0,245.0 L679.7,246.1 L681.6,246.7 L683.7,246.9 L685.8,247.0 L687.8,247.2 L689.7,247.9 L691.4,249.0 L693.1,250.3 L694.8,251.5 L696.6,252.3 L698.6,252.6 L700.7,252.7 L702.8,252.8 L704.8,253.3 L706.5,254.3 L708.2,255.6 L709.9,256.8 L711.7,257.8 L713.6,258.2 L715.7,258.3 M581.0,219.0 L582.9,219.6 L585.0,219.8 L587.1,219.9 L589.1,220.1 L591.0,220.8 L592.7,222.0 L594.4,223.3 L596.1,224.4 L598.0,225.2 L600.0,225.4 L602.1,225.5 L604.1,225.7 L606.1,226.3 L607.8,227.3 L609.5,228.6 L611.2,229.8 L613.0,230.7 L615.0,231.1 L617.0,231.2 L619.1,231.3 L621.1,231.7 L622.9,232.6 L624.6,233.9 L626.2,235.1 L628.0,236.1 L629.9,236.7 L632.0,236.8 L634.1,236.9 L636.1,237.2 L638.0,238.0 L639.7,239.1 L641.3,240.4 L643.1,241.6 L644.9,242.2 L647.0,242.5 L649.1,242.5 L651.1,242.8 L653.0,243.4 L654.8,244.4 L656.4,245.7 L658.1,246.9 L660.0,247.8 L662.0,248.1 L664.1,248.2 L666.1,248.3 L668.1,248.8 L669.9,249.8 L671.5,251.0 L673.2,252.3 L675.0,253.2 L676.9,253.7 L679.0,253.9 L681.1,253.9 L683.1,254.3 L685.0,255.1 L686.6,256.3 L688.3,257.6 L690.0,258.7 L691.9,259.3 L694.0,259.5 L696.1,259.6 L698.1,259.8 L700.0,260.5 L701.7,261.6 L703.4,262.9 L705.1,264.1 L707.0,264.8 L709.0,265.2 L711.1,265.2 L713.1,265.4"/>
    <path d="M716.2,80.8 L717.4,82.5 L718.7,84.1 L719.8,85.9 L720.4,87.8 L720.6,89.8 L720.6,91.9 L720.9,94.0 L721.6,95.8 L722.7,97.6 L724.0,99.2 L725.2,100.9 L725.9,102.8 L726.2,104.8 L726.3,106.9 L726.5,109.0 L727.0,110.9 L728.0,112.7 L729.3,114.3 L730.6,116.0 L731.4,117.8 L731.8,119.8 L731.9,121.9 L732.1,124.0 L732.5,125.9 L733.4,127.7 L734.6,129.4 L735.9,131.1 L736.9,132.8 L737.4,134.8 L737.6,136.8 L737.7,138.9 L738.0,141.0 L738.7,142.8 L739.9,144.5 L741.2,146.2 L742.3,147.9 L743.0,149.8 L743.3,151.8 L743.3,153.9 L743.5,156.0 L744.1,157.9 L745.2,159.6 L746.5,161.3 L747.7,163.0 L748.5,164.8 L748.9,166.8 L749.0,168.9 L749.1,171.0 L749.6,172.9 L750.5,174.7 L751.8,176.4 L753.0,178.1 L754.0,179.8 L754.5,181.8 L754.6,183.8 L754.7,186.0 L755.1,188.0 L755.9,189.8 L757.0,191.5 L758.4,193.1 L759.4,194.9 L760.1,196.8 L760.3,198.8 L760.4,200.9 L760.6,203.0 L761.3,204.9 L762.3,206.6 L763.6,208.2 L764.8,209.9 L765.6,211.8 M709.2,83.3 L710.4,85.0 L711.3,86.8 L711.8,88.8 L711.9,90.9 L712.0,93.0 L712.4,94.9 L713.2,96.8 L714.4,98.5 L715.7,100.1 L716.8,101.9 L717.4,103.8 L717.5,105.8 L717.6,107.9 L717.9,110.0 L718.6,111.8 L719.7,113.6 L721.0,115.2 L722.2,116.9 L722.9,118.8 L723.2,120.8 L723.3,122.9 L723.4,125.0 L724.0,126.9 L725.0,128.7 L726.3,130.3 L727.5,132.0 L728.4,133.8 L728.8,135.8 L728.9,137.9 L729.0,140.0 L729.5,141.9 L730.4,143.7 L731.6,145.4 L732.9,147.1 L733.9,148.8 L734.4,150.8 L734.6,152.8 L734.7,154.9 L735.0,157.0 L735.7,158.8 L736.9,160.5 L738.2,162.2 L739.3,163.9 L740.0,165.8 L740.2,167.8 L740.3,169.9 L740.5,172.0 L741.1,173.9 L742.2,175.6 L743.5,177.3 L744.7,179.0 L745.5,180.8 L745.9,182.8 L746.0,184.9 L746.1,187.0 L746.6,188.9 L747.5,190.7 L748.8,192.4 L750.0,194.0 L751.0,195.8 L751.5,197.8 L751.6,199.8 L751.7,201.9 L752.1,203.9 L752.9,205.8 L754.1,207.5 L755.4,209.1 L756.4,210.9 L757.1,212.8 L757.3,214.8 M702.0,85.9 L702.8,87.8 L703.1,89.8 L703.2,91.9 L703.4,94.0 L703.9,95.9 L704.9,97.7 L706.2,99.3 L707.4,101.0 L708.3,102.8 L708.7,104.8 L708.9,106.9 L709.0,109.0 L709.4,110.9 L710.2,112.8 L711.4,114.4 L712.7,116.1 L713.8,117.9 L714.3,119.8 L714.5,121.8 L714.6,123.9 L714.9,126.0 L715.6,127.8 L716.7,129.5 L718.0,131.2 L719.2,132.9 L719.9,134.8 L720.2,136.8 L720.2,138.9 L720.4,141.0 L721.0,142.9 L722.0,144.6 L723.3,146.3 L724.5,148.0 L725.4,149.8 L725.8,151.8 L725.9,153.9 L726.0,156.0 L726.5,157.9 L727.4,159.7 L728.6,161.4 L729.9,163.1 L730.9,164.8 L731.4,166.8 L731.6,168.8 L731.6,170.9 L732.0,173.0 L732.7,174.8 L733.9,176.5 L735.2,178.2 L736.3,179.9 L737.0,181.8 L737.2,183.8 L737.3,185.9 L737.5,188.0 L738.1,189.9 L739.2,191.6 L740.5,193.3 L741.7,195.0 L742.5,196.8 L742.9,198.8 L742.9,200.9 L743.1,203.0 L743.6,204.9 L744.5,206.7 L745.8,208.4 L747.0,210.0 L748.0,211.8 L748.5,213.8 L748.6,215.8 L748.7,217.9 M694.3,88.8 L694.5,90.8 L694.5,92.9 L694.8,95.0 L695.5,96.8 L696.6,98.6 L697.9,100.2 L699.0,101.9 L699.8,103.8 L700.1,105.8 L700.2,107.9 L700.3,110.0 L700.9,111.9 L701.9,113.7 L703.2,115.3 L704.4,117.0 L705.3,118.8 L705.7,120.8 L705.8,122.9 L705.9,125.0 L706.3,126.9 L707.2,128.8 L708.4,130.4 L709.7,132.1 L710.8,133.8 L711.3,135.8 L711.5,137.8 L711.6,139.9 L711.9,142.0 L712.6,143.8 L713.7,145.5 L715.0,147.2 L716.2,148.9 L716.9,150.8 L717.1,152.8 L717.2,154.9 L717.4,157.0 L718.0,158.9 L719.0,160.6 L720.3,162.3 L721.5,164.0 L722.4,165.8 L722.8,167.8 L722.9,169.9 L723.0,172.0 L723.4,173.9 L724.4,175.7 L725.6,177.4 L726.9,179.1 L727.9,180.8 L728.4,182.8 L728.5,184.8 L728.6,186.9 L728.9,189.0 L729.7,190.8 L730.9,192.5 L732.2,194.1 L733.3,195.9 L734.0,197.8 L734.2,199.8 L734.3,201.9 L734.5,204.0 L735.1,205.9 L736.2,207.6 L737.5,209.2 L738.7,210.9 L739.5,212.8 L739.8,214.8 L739.9,216.9 L740.0,219.0 L740.5,220.9 M685.8,91.9 L685.9,94.0 L686.2,95.9 L687.1,97.8 L688.3,99.5 L689.6,101.1 L690.6,102.9 L691.2,104.8 L691.4,106.8 L691.5,108.9 L691.8,111.0 L692.5,112.8 L693.6,114.6 L694.9,116.2 L696.0,117.9 L696.8,119.8 L697.1,121.8 L697.1,123.9 L697.3,126.0 L697.9,127.9 L698.9,129.7 L700.2,131.3 L701.4,133.0 L702.3,134.8 L702.7,136.8 L702.8,138.9 L702.9,141.0 L703.3,142.9 L704.2,144.7 L705.4,146.4 L706.7,148.1 L707.7,149.8 L708.3,151.8 L708.5,153.8 L708.5,155.9 L708.8,158.0 L709.6,159.8 L710.7,161.5 L712.0,163.2 L713.2,164.9 L713.9,166.8 L714.1,168.8 L714.2,170.9 L714.4,173.0 L715.0,174.9 L716.0,176.6 L717.3,178.3 L718.5,180.0 L719.4,181.8 L719.8,183.8 L719.8,185.9 L720.0,188.0 L720.4,189.9 L721.4,191.7 L722.6,193.4 L723.9,195.0 L724.9,196.8 L725.4,198.8 L725.5,200.8 L725.6,202.9 L725.9,204.9 L726.7,206.8 L727.9,208.5 L729.2,210.1 L730.3,211.9 L730.9,213.8 L731.2,215.8 L731.2,217.9 L731.5,220.0 L732.1,221.9 L733.2,223.6 M677.2,95.0 L677.8,96.9 L678.7,98.7 L680.0,100.3 L681.3,102.0 L682.2,103.8 L682.6,105.8 L682.7,107.9 L682.8,110.0 L683.2,111.9 L684.1,113.8 L685.3,115.4 L686.6,117.1 L687.6,118.9 L688.2,120.8 L688.4,122.8 L688.5,124.9 L688.7,127.0 L689.4,128.8 L690.6,130.6 L691.9,132.2 L693.0,133.9 L693.8,135.8 L694.1,137.8 L694.1,139.9 L694.3,142.0 L694.9,143.9 L695.9,145.6 L697.2,147.3 L698.4,149.0 L699.3,150.8 L699.7,152.8 L699.8,154.9 L699.9,157.0 L700.3,158.9 L701.2,160.7 L702.4,162.4 L703.7,164.1 L704.7,165.8 L705.3,167.8 L705.4,169.8 L705.5,171.9 L705.8,174.0 L706.6,175.8 L707.7,177.5 L709.0,179.2 L710.2,180.9 L710.8,182.8 L711.1,184.8 L711.2,186.9 L711.4,189.0 L712.0,190.9 L713.0,192.6 L714.3,194.3 L715.5,196.0 L716.4,197.8 L716.7,199.8 L716.8,201.9 L716.9,204.0 L717.4,205.9 L718.4,207.7 L719.6,209.4 L720.9,211.0 L721.8,212.8 L722.3,214.8 L722.5,216.8 L722.6,218.9 L722.9,220.9 L723.7,222.8 L724.9,224.5 L726.2,226.1 M669.3,97.8 L670.4,99.6 L671.7,101.2 L672.9,102.9 L673.7,104.8 L674.0,106.8 L674.1,108.9 L674.2,111.0 L674.7,112.9 L675.7,114.7 L677.0,116.3 L678.3,118.0 L679.2,119.8 L679.6,121.8 L679.7,123.9 L679.8,126.0 L680.2,127.9 L681.1,129.8 L682.3,131.4 L683.6,133.1 L684.6,134.8 L685.2,136.8 L685.4,138.8 L685.4,140.9 L685.7,143.0 L686.4,144.8 L687.6,146.5 L688.9,148.2 L690.0,149.9 L690.7,151.8 L691.0,153.8 L691.1,155.9 L691.3,158.0 L691.9,159.9 L692.9,161.6 L694.2,163.3 L695.4,165.0 L696.3,166.8 L696.7,168.8 L696.8,170.9 L696.9,173.0 L697.3,174.9 L698.2,176.7 L699.4,178.4 L700.7,180.1 L701.7,181.8 L702.3,183.8 L702.4,185.8 L702.5,187.9 L702.8,189.9 L703.6,191.8 L704.7,193.5 L706.0,195.2 L707.2,196.9 L707.8,198.8 L708.1,200.8 L708.1,202.9 L708.3,205.0 L709.0,206.9 L710.0,208.6 L711.3,210.3 L712.5,211.9 L713.4,213.8 L713.7,215.8 L713.8,217.9 L713.9,220.0 L714.4,221.9 L715.4,223.7 L716.6,225.4 L717.9,227.0 L718.8,228.8 M662.1,100.5 L663.4,102.1 L664.5,103.9 L665.1,105.8 L665.3,107.8 L665.4,109.9 L665.6,112.0 L666.3,113.8 L667.4,115.6 L668.7,117.2 L669.9,118.9 L670.7,120.8 L671.0,122.8 L671.0,124.9 L671.2,127.0 L671.7,128.9 L672.7,130.7 L674.0,132.3 L675.3,134.0 L676.2,135.8 L676.6,137.8 L676.7,139.9 L676.8,141.9 L677.2,143.9 L678.1,145.7 L679.3,147.4 L680.6,149.1 L681.6,150.8 L682.2,152.8 L682.4,154.8 L682.4,156.9 L682.7,159.0 L683.4,160.8 L684.6,162.5 L685.9,164.2 L687.0,165.9 L687.7,167.8 L688.0,169.8 L688.1,171.9 L688.3,174.0 L688.8,175.9 L689.9,177.6 L691.2,179.3 L692.4,181.0 L693.2,182.8 L693.6,184.8 L693.7,186.9 L693.9,189.0 L694.3,190.9 L695.2,192.7 L696.5,194.4 L697.7,196.1 L698.7,197.8 L699.2,199.8 L699.4,201.8 L699.5,203.9 L699.8,205.9 L700.6,207.8 L701.7,209.5 L703.0,211.1 L704.1,212.9 L704.8,214.8 L705.1,216.8 L705.1,218.9 L705.3,221.0 L706.0,222.9 L707.0,224.6 L708.3,226.2 L709.5,227.9 L710.3,229.8 L710.7,231.8 M655.1,103.0 L656.0,104.8 L656.5,106.8 L656.6,108.8 L656.7,110.9 L657.1,112.9 L657.9,114.8 L659.1,116.5 L660.4,118.1 L661.5,119.9 L662.1,121.8 L662.3,123.8 L662.4,125.9 L662.6,128.0 L663.3,129.8 L664.4,131.6 L665.7,133.2 L666.9,134.9 L667.6,136.8 L667.9,138.8 L668.0,140.9 L668.2,143.0 L668.7,144.9 L669.7,146.7 L671.0,148.3 L672.2,150.0 L673.1,151.8 L673.6,153.8 L673.7,155.9 L673.8,157.9 L674.2,159.9 L675.1,161.7 L676.3,163.4 L677.6,165.1 L678.6,166.8 L679.2,168.8 L679.3,170.8 L679.4,172.9 L679.7,174.9 L680.4,176.8 L681.6,178.5 L682.9,180.2 L684.0,181.9 L684.7,183.8 L685.0,185.8 L685.1,187.9 L685.2,190.0 L685.8,191.9 L686.9,193.6 L688.2,195.3 L689.4,197.0 L690.2,198.8 L690.6,200.8 L690.7,202.9 L690.8,204.9 L691.3,206.9 L692.2,208.7 L693.5,210.4 L694.7,212.0 L695.7,213.8 L696.2,215.8 L696.4,217.8 L696.4,219.9 L696.8,221.9 L697.6,223.8 L698.7,225.5 L700.0,227.1 L701.1,228.9 L701.8,230.8 L702.0,232.8 L702.1,234.9 M647.5,105.8 L647.9,107.8 L647.9,109.9 L648.1,112.0 L648.6,113.9 L649.6,115.7 L650.8,117.3 L652.1,119.0 L653.0,120.8 L653.5,122.8 L653.6,124.8 L653.7,126.9 L654.1,128.9 L654.9,130.8 L656.1,132.4 L657.4,134.1 L658.5,135.8 L659.1,137.8 L659.3,139.8 L659.3,141.9 L659.6,144.0 L660.3,145.8 L661.4,147.5 L662.7,149.2 L663.9,150.9 L664.6,152.8 L664.9,154.8 L665.0,156.9 L665.2,159.0 L665.7,160.9 L666.7,162.6 L668.0,164.3 L669.2,166.0 L670.1,167.8 L670.5,169.8 L670.7,171.9 L670.8,173.9 L671.2,175.9 L672.1,177.7 L673.3,179.4 L674.6,181.1 L675.6,182.8 L676.1,184.8 L676.3,186.8 L676.4,188.9 L676.7,190.9 L677.4,192.8 L678.6,194.5 L679.9,196.2 L681.0,197.9 L681.7,199.8 L682.0,201.8 L682.0,203.9 L682.2,206.0 L682.8,207.9 L683.9,209.6 L685.2,211.3 L686.4,213.0 L687.2,214.8 L687.6,216.8 L687.7,218.9 L687.8,220.9 L688.3,222.9 L689.2,224.7 L690.5,226.4 L691.7,228.0 L692.7,229.8 L693.2,231.8 L693.4,233.8 L693.4,235.9 L693.8,237.9 M639.2,108.8 L639.3,110.9 L639.5,113.0 L640.2,114.8 L641.3,116.6 L642.6,118.2 L643.7,119.9 L644.5,121.8 L644.9,123.8 L644.9,125.9 L645.1,128.0 L645.6,129.9 L646.6,131.7 L647.8,133.3 L649.1,135.0 L650.0,136.8 L650.5,138.8 L650.6,140.8 L650.7,142.9 L651.1,144.9 L651.9,146.7 L653.1,148.4 L654.4,150.1 L655.5,151.8 L656.1,153.8 L656.3,155.8 L656.3,157.9 L656.6,159.9 L657.3,161.8 L658.4,163.5 L659.7,165.2 L660.9,166.9 L661.6,168.8 L661.9,170.8 L662.0,172.9 L662.1,175.0 L662.7,176.9 L663.7,178.6 L665.0,180.3 L666.2,182.0 L667.1,183.8 L667.5,185.8 L667.6,187.9 L667.7,189.9 L668.2,191.9 L669.1,193.7 L670.3,195.4 L671.6,197.1 L672.6,198.8 L673.1,200.8 L673.3,202.8 L673.4,204.9 L673.7,206.9 L674.4,208.8 L675.6,210.5 L676.9,212.2 L678.0,213.9 L678.7,215.8 L678.9,217.8 L679.0,219.9 L679.2,221.9 L679.8,223.9 L680.9,225.6 L682.2,227.3 L683.4,228.9 L684.2,230.8 L684.6,232.8 L684.7,234.9 L684.8,236.9 L685.3,238.9 L686.2,240.7 M630.6,111.9 L631.0,113.9 L631.8,115.8 L633.0,117.5 L634.3,119.1 L635.3,120.9 L636.0,122.8 L636.2,124.8 L636.2,126.9 L636.5,129.0 L637.2,130.8 L638.3,132.6 L639.6,134.2 L640.7,135.9 L641.5,137.8 L641.8,139.8 L641.9,141.9 L642.1,144.0 L642.6,145.9 L643.6,147.7 L644.9,149.3 L646.1,151.0 L647.0,152.8 L647.5,154.8 L647.6,156.8 L647.7,158.9 L648.1,160.9 L648.9,162.7 L650.1,164.4 L651.4,166.1 L652.5,167.8 L653.0,169.8 L653.2,171.8 L653.3,173.9 L653.6,175.9 L654.3,177.8 L655.4,179.5 L656.7,181.2 L657.9,182.9 L658.6,184.8 L658.9,186.8 L658.9,188.9 L659.1,190.9 L659.7,192.9 L660.7,194.6 L662.0,196.3 L663.2,198.0 L664.1,199.8 L664.5,201.8 L664.6,203.9 L664.7,205.9 L665.2,207.9 L666.1,209.7 L667.3,211.4 L668.6,213.0 L669.6,214.8 L670.1,216.7 L670.3,218.8 L670.3,220.9 L670.6,222.9 L671.4,224.8 L672.6,226.5 L673.9,228.1 L675.0,229.9 L675.7,231.8 L675.9,233.8 L676.0,235.9 L676.2,237.9 L676.8,239.8 L677.9,241.6 L679.2,243.2 M622.5,114.9 L623.4,116.7 L624.7,118.3 L625.9,120.0 L626.9,121.8 L627.4,123.8 L627.5,125.8 L627.6,127.9 L627.9,129.9 L628.8,131.8 L630.0,133.5 L631.3,135.1 L632.3,136.8 L633.0,138.8 L633.2,140.8 L633.2,142.9 L633.5,144.9 L634.2,146.8 L635.3,148.6 L636.6,150.2 L637.7,151.9 L638.5,153.8 L638.8,155.8 L638.9,157.9 L639.0,159.9 L639.6,161.9 L640.6,163.6 L641.9,165.3 L643.1,167.0 L644.0,168.8 L644.4,170.8 L644.5,172.8 L644.6,174.9 L645.0,176.9 L645.9,178.7 L647.1,180.4 L648.4,182.1 L649.4,183.8 L650.0,185.7 L650.2,187.8 L650.3,189.9 L650.6,191.9 L651.3,193.8 L652.4,195.5 L653.7,197.2 L654.9,198.9 L655.6,200.8 L655.9,202.8 L655.9,204.9 L656.1,206.9 L656.7,208.9 L657.7,210.6 L659.0,212.3 L660.2,214.0 L661.1,215.8 L661.5,217.8 L661.6,219.9 L661.7,221.9 L662.1,223.9 L663.0,225.7 L664.3,227.4 L665.6,229.0 L666.6,230.8 L667.1,232.7 L667.2,234.8 L667.3,236.9 L667.6,238.9 L668.4,240.8 L669.6,242.5 L670.9,244.1 L672.0,245.9 M615.1,117.6 L616.4,119.2 L617.6,120.9 L618.4,122.8 L618.7,124.8 L618.8,126.9 L619.0,128.9 L619.5,130.9 L620.4,132.7 L621.7,134.3 L622.9,136.0 L623.9,137.8 L624.4,139.8 L624.5,141.8 L624.6,143.9 L624.9,145.9 L625.8,147.8 L627.0,149.4 L628.3,151.1 L629.3,152.8 L629.9,154.7 L630.1,156.8 L630.2,158.9 L630.5,160.9 L631.1,162.8 L632.3,164.5 L633.6,166.2 L634.7,167.9 L635.5,169.8 L635.8,171.8 L635.9,173.9 L636.0,175.9 L636.6,177.9 L637.6,179.6 L638.9,181.3 L640.1,183.0 L641.0,184.8 L641.4,186.8 L641.5,188.8 L641.6,190.9 L642.0,192.9 L642.9,194.7 L644.1,196.4 L645.4,198.1 L646.4,199.8 L647.0,201.7 L647.2,203.8 L647.2,205.9 L647.5,207.9 L648.3,209.8 L649.4,211.5 L650.7,213.2 L651.9,214.9 L652.6,216.7 L652.8,218.8 L652.9,220.9 L653.1,222.9 L653.7,224.9 L654.7,226.6 L656.0,228.3 L657.2,229.9 L658.1,231.8 L658.5,233.8 L658.6,235.9 L658.7,237.9 L659.1,239.9 L660.0,241.7 L661.3,243.4 L662.6,245.0 L663.6,246.8 L664.1,248.7 M608.1,120.1 L609.2,121.9 L609.8,123.8 L610.1,125.8 L610.1,127.9 L610.4,129.9 L611.0,131.8 L612.1,133.6 L613.4,135.2 L614.6,136.9 L615.4,138.8 L615.7,140.8 L615.8,142.9 L615.9,144.9 L616.4,146.9 L617.4,148.7 L618.7,150.3 L619.9,152.0 L620.9,153.8 L621.3,155.8 L621.5,157.8 L621.5,159.9 L621.9,161.9 L622.8,163.7 L624.0,165.4 L625.3,167.1 L626.3,168.8 L626.9,170.7 L627.1,172.8 L627.2,174.9 L627.4,176.9 L628.1,178.8 L629.3,180.5 L630.6,182.2 L631.7,183.9 L632.5,185.8 L632.8,187.8 L632.8,189.9 L633.0,191.9 L633.6,193.9 L634.6,195.6 L635.9,197.3 L637.1,199.0 L638.0,200.8 L638.4,202.8 L638.5,204.8 L638.6,206.9 L639.0,208.9 L639.9,210.7 L641.1,212.4 L642.4,214.1 L643.4,215.8 L644.0,217.7 L644.2,219.8 L644.2,221.9 L644.5,223.9 L645.3,225.8 L646.4,227.5 L647.7,229.1 L648.9,230.9 L649.5,232.7 L649.8,234.8 L649.9,236.9 L650.1,238.9 L650.7,240.8 L651.7,242.6 L653.0,244.3 L654.2,245.9 L655.1,247.8 L655.4,249.8 L655.5,251.9 M600.8,122.8 L601.3,124.7 L601.4,126.8 L601.5,128.9 L601.8,130.9 L602.6,132.8 L603.8,134.5 L605.1,136.1 L606.2,137.9 L606.8,139.7 L607.1,141.8 L607.1,143.9 L607.3,145.9 L608.0,147.8 L609.1,149.6 L610.4,151.2 L611.6,152.9 L612.4,154.8 L612.7,156.8 L612.8,158.9 L612.9,160.9 L613.4,162.9 L614.4,164.7 L615.7,166.3 L616.9,168.0 L617.9,169.8 L618.3,171.7 L618.4,173.8 L618.5,175.9 L618.9,177.9 L619.8,179.7 L621.0,181.4 L622.3,183.1 L623.3,184.8 L623.9,186.7 L624.1,188.8 L624.2,190.9 L624.4,192.9 L625.1,194.8 L626.3,196.5 L627.6,198.2 L628.7,199.9 L629.4,201.7 L629.7,203.8 L629.8,205.9 L630.0,207.9 L630.5,209.9 L631.6,211.6 L632.9,213.3 L634.1,215.0 L635.0,216.8 L635.4,218.8 L635.5,220.8 L635.6,222.9 L636.0,224.9 L636.9,226.7 L638.1,228.4 L639.4,230.0 L640.4,231.8 L641.0,233.7 L641.1,235.8 L641.2,237.9 L641.5,239.9 L642.3,241.8 L643.4,243.5 L644.7,245.1 L645.8,246.9 L646.5,248.7 L646.8,250.8 L646.8,252.9 L647.0,254.9 M592.6,125.8 L592.7,127.9 L592.8,129.9 L593.3,131.9 L594.3,133.7 L595.5,135.3 L596.8,137.0 L597.7,138.8 L598.2,140.7 L598.4,142.8 L598.4,144.9 L598.8,146.9 L599.6,148.8 L600.8,150.4 L602.1,152.1 L603.2,153.8 L603.8,155.7 L604.0,157.8 L604.1,159.9 L604.3,161.9 L605.0,163.8 L606.1,165.6 L607.4,167.2 L608.6,168.9 L609.4,170.8 L609.7,172.8 L609.7,174.9 L609.9,176.9 L610.4,178.9 L611.4,180.6 L612.7,182.3 L613.9,184.0 L614.8,185.8 L615.3,187.7 L615.4,189.8 L615.5,191.9 L615.9,193.9 L616.8,195.7 L618.0,197.4 L619.3,199.1 L620.3,200.8 L620.9,202.7 L621.1,204.8 L621.1,206.9 L621.4,208.9 L622.1,210.8 L623.3,212.5 L624.6,214.2 L625.7,215.9 L626.4,217.7 L626.7,219.8 L626.8,221.9 L627.0,223.9 L627.5,225.9 L628.6,227.6 L629.9,229.3 L631.1,231.0 L631.9,232.8 L632.3,234.7 L632.4,236.8 L632.6,238.9 L633.0,240.9 L633.9,242.7 L635.1,244.4 L636.4,246.0 L637.4,247.8 L637.9,249.7 L638.1,251.8 L638.2,253.9 L638.5,255.9 L639.3,257.8 M584.0,128.9 L584.2,130.9 L584.9,132.8 L585.9,134.6 L587.3,136.2 L588.4,137.9 L589.2,139.8 L589.6,141.8 L589.7,143.9 L589.8,145.9 L590.3,147.9 L591.3,149.7 L592.5,151.3 L593.8,153.0 L594.7,154.8 L595.2,156.7 L595.3,158.8 L595.4,160.9 L595.8,162.9 L596.6,164.7 L597.8,166.4 L599.1,168.1 L600.2,169.8 L600.8,171.7 L601.0,173.8 L601.1,175.9 L601.3,177.9 L602.0,179.8 L603.1,181.5 L604.4,183.2 L605.6,184.9 L606.3,186.8 L606.6,188.8 L606.7,190.9 L606.9,192.9 L607.4,194.9 L608.4,196.6 L609.7,198.3 L610.9,200.0 L611.8,201.8 L612.3,203.7 L612.4,205.8 L612.5,207.9 L612.9,209.9 L613.8,211.7 L615.0,213.4 L616.3,215.1 L617.3,216.8 L617.9,218.7 L618.0,220.8 L618.1,222.9 L618.4,224.9 L619.1,226.8 L620.3,228.5 L621.6,230.2 L622.7,231.9 L623.4,233.7 L623.7,235.8 L623.8,237.9 L623.9,239.9 L624.5,241.9 L625.6,243.6 L626.9,245.3 L628.1,246.9 L628.9,248.8 L629.3,250.7 L629.4,252.8 L629.5,254.9 L630.0,256.9 L630.9,258.7 L632.1,260.4 M575.7,131.9 L576.5,133.8 L577.7,135.5 L579.0,137.1 L580.1,138.9 L580.7,140.7 L580.9,142.8 L581.0,144.9 L581.2,146.9 L581.9,148.8 L582.9,150.6 L584.3,152.2 L585.4,153.9 L586.2,155.8 L586.6,157.8 L586.7,159.9 L586.8,161.9 L587.3,163.9 L588.3,165.7 L589.5,167.3 L590.8,169.0 L591.7,170.8 L592.2,172.7 L592.3,174.8 L592.4,176.9 L592.8,178.9 L593.6,180.7 L594.8,182.4 L596.1,184.1 L597.2,185.8 L597.8,187.7 L598.0,189.8 L598.0,191.9 L598.3,193.9 L599.0,195.8 L600.1,197.5 L601.4,199.2 L602.6,200.9 L603.3,202.7 L603.6,204.8 L603.7,206.9 L603.9,208.9 L604.4,210.9 L605.4,212.6 L606.7,214.3 L607.9,216.0 L608.8,217.8 L609.3,219.7 L609.4,221.8 L609.5,223.9 L609.9,225.9 L610.7,227.7 L612.0,229.4 L613.3,231.1 L614.3,232.8 L614.8,234.7 L615.0,236.8 L615.1,238.9 L615.4,240.9 L616.1,242.8 L617.3,244.5 L618.6,246.1 L619.7,247.9 L620.4,249.7 L620.7,251.8 L620.7,253.9 L620.9,255.9 L621.5,257.8 L622.6,259.6 L623.9,261.2 L625.1,262.9"/>
  </g>
  <path d="M660.6,128 Q668,137 672,140 Q680,146 684,152 Q692,160 697,165 Q705,173 708,178 L714,185 M630,158.6 Q637,166 642,170 Q650,176 655,182 Q662,189 668,194 Q676,201 680,206 L688,212.5" stroke="#111" stroke-width="2" fill="none"/>
</g>

<!-- ===== TIMER ===== -->
<g id="timer">
  <circle cx="679.6" cy="343" r="25.4" fill="#fff" stroke="#808080" stroke-width="1.1"/>
  <circle cx="679.6" cy="343.2" r="17.5" fill="none" stroke="#38a5de" stroke-width="7.8"/>
  <circle cx="679.6" cy="343.2" r="21.4" fill="none" stroke="#1f6a9c" stroke-width="0.9"/>
  <circle cx="679.6" cy="343.2" r="13.6" fill="none" stroke="#1f6a9c" stroke-width="0.8"/>
  <circle cx="679.6" cy="343.2" r="17.5" fill="none" stroke="#1d6fa4" stroke-width="3" stroke-dasharray="0.8 3.78"/>
  <circle cx="679.6" cy="343.2" r="12.6" fill="#fff" stroke="#666" stroke-width="0.9"/>
  <rect x="678.4" y="330" width="2.4" height="2.2" fill="#fff" stroke="#666" stroke-width="0.6"/>
  <rect x="678.4" y="354.3" width="2.4" height="2.2" fill="#fff" stroke="#666" stroke-width="0.6"/>
  <circle cx="673.6" cy="343.2" r="1.9" fill="#111"/>
  <circle cx="685.2" cy="343.2" r="1.9" fill="#111"/>
</g>
<!-- plug + cable -->
<g id="plug" stroke="#111" stroke-width="1.3" fill="#fff" stroke-linejoin="round">
  <path d="M657.8,414 L657.3,448 C656.5,463 650,472.5 638,477 C622,482 595,481 575,477 C562,474 552,470.5 546,468.5" fill="none" stroke-width="1.5"/>
  <rect x="652.8" y="399" width="8.5" height="15.5" rx="1.5"/>
  <path d="M651.6,384 L656,382.5 L663,382 L664.5,399 L660,401 L653,399.5 Z"/>
  <path d="M656,382.5 L663,384 L664.5,399 M656,382.5 L656.5,398" fill="none" stroke-width="0.9"/>
  <path d="M662.5,380.5 L667,378.8 L671,379.8 L672.8,386 L672.5,394.5 L664,396.5 Z"/>
  <path d="M672.5,385.5 L678.6,385.8 L678.6,388.6 L672.5,389" />
  <path d="M672.5,381.8 L674.5,382.5 L674.4,384.5" fill="none"/>
</g>

<!-- ===== LEADER LINES / ARROWS / NUMBERS ===== -->
<g id="leaders" stroke="#c2c2c2" stroke-width="1.2" fill="none">
  <path d="M194,284 L350,315"/>
  <path d="M156,385 L274,370"/>
  <path d="M152.5,518.7 L320,509"/>
  <path d="M161,826 L312,767"/>
  <path d="M520,208.5 L614,187"/>
  <path d="M136,911 L216,962.7"/>
  <path d="M265,1072 L311,1019"/>
  <path d="M643,911 L550,960"/>
  <path d="M458.6,998 L550,1064"/>
</g>
<g stroke="#dde9f0" stroke-width="1.2" fill="none" clip-path="url(#clipTank)">
  <path d="M161,826 L312,767"/>
  <path d="M136,911 L216,962.7"/>
  <path d="M265,1072 L311,1019"/>
  <path d="M643,911 L550,960"/>
  <path d="M458.6,998 L550,1064"/>
</g>
<g id="arrows2" stroke="#c0c0c0" stroke-width="1.6" fill="#c0c0c0">
  <path d="M184,674.5 L131,689" fill="none"/>
  <path d="M124.5,692 L136.5,681 L140,693.5 Z" stroke="none"/>
  <path d="M694.8,622 L649,605.5" fill="none"/>
  <path d="M642,603 L655.5,599 L652.5,611.5 Z" stroke="none"/>
</g>
<g id="numbers">
  <circle cx="121.5" cy="900.2" r="17.3" fill="#c9c9c9"/>
  <circle cx="658.8" cy="900.2" r="17.3" fill="#c9c9c9"/>
  <circle cx="252.8" cy="1085" r="17.3" fill="#c9c9c9"/>
  <g fill="#fff" font-weight="bold" font-size="25" text-anchor="middle">
    <text x="121.8" y="909">2</text>
    <text x="659.3" y="909">1</text>
    <text x="253.1" y="1094">3</text>
  </g>
</g>

<!-- ===== LABELS ===== -->
<g id="labels" fill="#1a1a1a">
  <text x="56.00" y="277.4" font-size="23.3" textLength="138.53" lengthAdjust="spacingAndGlyphs">Рассекатель</text>
  <text x="56.00" y="385.5" font-size="23.3" textLength="80.29" lengthAdjust="spacingAndGlyphs">Корпус</text>
  <text x="57.00" y="412.5" font-size="23.3" textLength="132.00" lengthAdjust="spacingAndGlyphs">биофильтра</text>
  <text x="56.00" y="517.0" font-size="23.3" textLength="80.33" lengthAdjust="spacingAndGlyphs">Подача</text>
  <text x="56.00" y="543.7" font-size="23.3" textLength="86.65" lengthAdjust="spacingAndGlyphs">воздуха</text>
  <text x="56.00" y="725.5" font-size="23.3" textLength="71.80" lengthAdjust="spacingAndGlyphs">Выход</text>
  <text x="57.00" y="753.0" font-size="23.3" textLength="123.59" lengthAdjust="spacingAndGlyphs">очищенных</text>
  <text x="57.00" y="781.0" font-size="23.3" textLength="38.19" lengthAdjust="spacingAndGlyphs">вод</text>
  <text x="56.00" y="831.3" font-size="23.3" textLength="98.56" lengthAdjust="spacingAndGlyphs">Эжектор</text>
  <text x="657.50" y="647.8" font-size="23.3" textLength="54.99" lengthAdjust="spacingAndGlyphs">Вход</text>
  <text x="658.50" y="675.0" font-size="23.3" textLength="90.56" lengthAdjust="spacingAndGlyphs">сточных</text>
  <text x="657.50" y="702.8" font-size="23.3" textLength="39.27" lengthAdjust="spacingAndGlyphs">вод</text>
  <text x="556.00" y="1082.8" font-size="23.3" textLength="67.34" lengthAdjust="spacingAndGlyphs">Насос</text>
  <text x="556.00" y="1105.5" font-size="23.3" textLength="154.45" lengthAdjust="spacingAndGlyphs">рециркуляции</text>
  <text x="338.00" y="1123.2" font-size="21.5" textLength="125.73" lengthAdjust="spacingAndGlyphs">Евролос БИО</text>
  <text x="637.00" y="67.6" font-size="15.5" font-weight="bold" textLength="76.65" lengthAdjust="spacingAndGlyphs">Загрузка</text>
  <text x="623.00" y="88.3" font-size="15.5" font-weight="bold" textLength="104.50" lengthAdjust="spacingAndGlyphs">биофильтра</text>
  <text x="652.00" y="294.8" font-size="14.5" font-weight="bold" textLength="56.74" lengthAdjust="spacingAndGlyphs">Таймер</text>
  <text x="659.00" y="309.8" font-size="14.5" font-weight="bold" textLength="40.14" lengthAdjust="spacingAndGlyphs">220В</text>
</g>

</svg>
</body></html>
